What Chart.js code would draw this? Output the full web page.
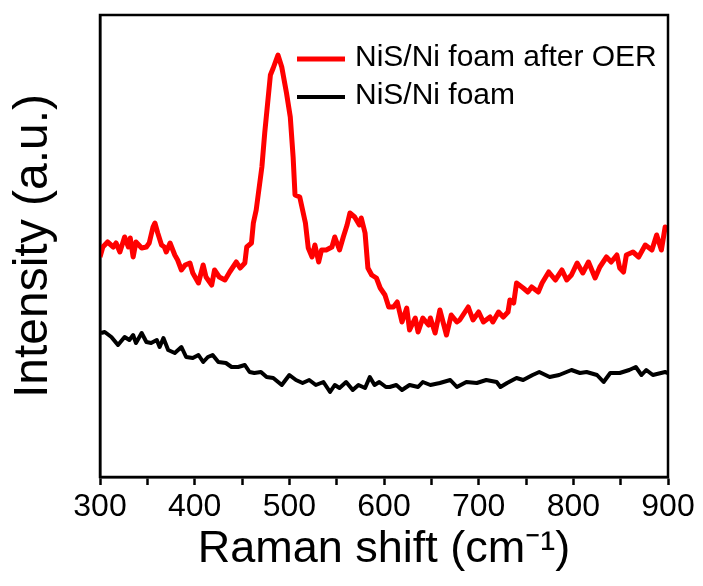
<!DOCTYPE html>
<html>
<head>
<meta charset="utf-8">
<script src="https://cdn.jsdelivr.net/npm/chart.js@4"></script>
<style>
  html, body { margin: 0; padding: 0; background: #fff; }
  #wrap { width: 703px; height: 586px; position: relative; }
</style>
</head>
<body>
<div id="wrap"><canvas id="c" width="703" height="586"></canvas></div>
<script>
// Raman shift (cm-1) and intensity (a.u.)
const redX = [300,303,308,314,317,321,326,330,332,335,338,344,349,352,356,358,361,365,368,370,374,379,382,386,390,395,398,404,409,412,418,421,426,432,437,444,448,453,455,460,462,465,471,474,480,483,488,492,497,501,504,506,511,517,520,524,527,531,534,539,545,548,553,557,561,564,569,574,576,580,583,587,592,596,601,605,610,614,619,624,627,633,636,641,647,649,654,659,666,671,677,680,689,694,700,705,712,715,721,726,731,733,737,740,747,752,756,763,767,774,781,788,793,798,804,810,816,823,828,835,840,846,849,853,856,863,869,876,883,888,893,897,900];
const redY = [220,230,235,230,234,225,240,230,239,220,235,229,230,234,250,254,244,232,230,225,234,222,217,207,212,214,204,194,212,200,192,207,200,197,205,215,209,214,230,234,254,267,310,344,402,409,422,410,384,360,320,282,280,254,229,220,232,215,227,227,230,240,227,240,252,264,260,252,259,244,209,202,199,189,182,170,170,175,155,169,147,159,145,159,152,159,144,167,142,162,155,157,170,157,165,155,160,155,165,160,165,177,174,194,189,185,190,185,194,205,197,207,197,202,214,204,215,199,210,220,215,222,209,205,222,225,220,232,227,242,227,250,247];
const blackX = [301,305,312,319,326,331,335,338,344,349,354,360,363,367,372,379,386,391,398,404,409,414,419,425,433,439,446,453,458,463,470,476,483,492,500,507,514,521,528,536,543,548,553,560,567,573,580,585,590,595,602,606,613,619,627,636,641,649,659,670,677,687,698,708,719,723,730,740,747,757,764,775,785,798,807,814,825,832,839,849,859,866,872,877,884,897,900];
const blackY = [144,145,140,132,140,137,142,134,144,135,134,137,130,139,127,124,130,120,119,122,115,120,122,115,114,110,110,112,105,104,105,100,99,92,102,97,94,97,92,95,85,92,89,95,87,92,89,100,92,95,90,90,92,87,92,90,95,92,94,97,90,95,94,97,95,90,94,99,97,102,105,100,102,107,104,105,102,95,104,104,107,110,102,107,102,105,104];
const seriesLabels = ['NiS/Ni foam after OER', 'NiS/Ni foam'];
const xTicks = [300,400,500,600,700,800,900];

const toPts = (xs, ys) => xs.map((x, i) => ({ x: x, y: ys[i] }));

const frameAndLegend = {
  id: 'frameAndLegend',
  afterDraw(chart) {
    const { ctx, chartArea: a } = chart;
    ctx.save();
    ctx.strokeStyle = '#000';
    ctx.lineWidth = 2.5;
    ctx.strokeRect(a.left, a.top, a.right - a.left, a.bottom - a.top);
    // legend
    const rows = [59, 97];
    ctx.font = '30px "Liberation Sans", Arial, sans-serif';
    ctx.textBaseline = 'middle';
    chart.data.datasets.forEach((ds, i) => {
      const y = rows[i];
      ctx.strokeStyle = ds.borderColor;
      ctx.lineWidth = ds.borderWidth;
      ctx.beginPath();
      ctx.moveTo(297, y);
      ctx.lineTo(345, y);
      ctx.stroke();
      ctx.fillStyle = '#000';
      ctx.fillText(ds.label, 355, y - 1);
    });
    ctx.restore();
  }
};

new Chart(document.getElementById('c'), {
  type: 'scatter',
  data: {
    datasets: [
      { label: seriesLabels[0], data: toPts(redX, redY), showLine: true, borderColor: '#ff0000', borderWidth: 5, pointRadius: 0, tension: 0, borderJoinStyle: 'round' },
      { label: seriesLabels[1], data: toPts(blackX, blackY), showLine: true, borderColor: '#000000', borderWidth: 4, pointRadius: 0, tension: 0, borderJoinStyle: 'round' }
    ]
  },
  options: {
    responsive: false,
    animation: false,
    devicePixelRatio: 1,
    layout: { padding: { top: 15, right: 35, left: 0, bottom: 0 } },
    plugins: { legend: { display: false }, tooltip: { enabled: false } },
    scales: {
      x: {
        type: 'linear',
        min: 300, max: 900,
        grid: { display: true, drawOnChartArea: false, drawTicks: true, tickLength: 8, tickWidth: 2.5, tickColor: '#000', color: '#000' },
        border: { display: true, color: '#000', width: 2.5 },
        ticks: {
          stepSize: 50,
          autoSkip: false,
          maxRotation: 0,
          padding: 3,
          color: '#000',
          font: { family: '"Liberation Sans", Arial, sans-serif', size: 32 },
          callback: (v) => xTicks.includes(v) ? String(v) : ''
        },
        title: {
          display: true,
          text: 'Raman shift (cm\u207B\u00B9)',
          color: '#000',
          font: { family: '"Liberation Sans", Arial, sans-serif', size: 45 },
          padding: { top: 0, bottom: 9 }
        },
        afterFit(scale) { scale.height = 109; }
      },
      y: {
        min: 0, max: 462,
        grid: { display: false },
        border: { display: true, color: '#000', width: 2.5 },
        ticks: { display: false },
        title: {
          display: true,
          text: 'Intensity (a.u.)',
          color: '#000',
          font: { family: '"Liberation Sans", Arial, sans-serif', size: 48 },
          padding: { top: 5, bottom: 0 }
        },
        afterFit(scale) { scale.width = 100; }
      }
    }
  },
  plugins: [frameAndLegend]
});
</script>
</body>
</html>
